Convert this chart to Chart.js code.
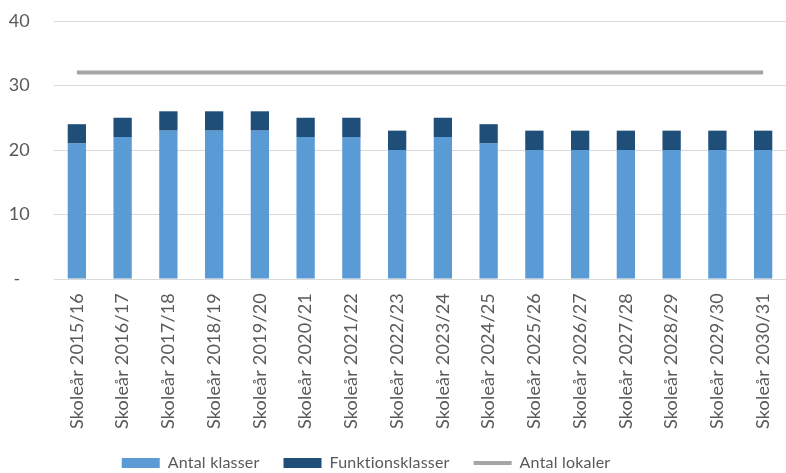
<!DOCTYPE html>
<html>
<head>
<meta charset="utf-8">
<script src="https://cdn.jsdelivr.net/npm/chart.js@4/dist/chart.umd.min.js"></script>
<style>
html,body{margin:0;padding:0;background:#fff;}
#wrap{width:786px;height:473px;position:relative;}
</style>
</head>
<body>
<div id="wrap"><canvas id="c" width="786" height="473"></canvas></div>
<script>
const categories = ["Skoleår 2015/16","Skoleår 2016/17","Skoleår 2017/18","Skoleår 2018/19","Skoleår 2019/20","Skoleår 2020/21","Skoleår 2021/22","Skoleår 2022/23","Skoleår 2023/24","Skoleår 2024/25","Skoleår 2025/26","Skoleår 2026/27","Skoleår 2027/28","Skoleår 2028/29","Skoleår 2029/30","Skoleår 2030/31"];
const antalKlasser = [21,22,23,23,23,22,22,20,22,21,20,20,20,20,20,20];
const funktionsklasser = [3,3,3,3,3,3,3,3,3,3,3,3,3,3,3,3];
const antalLokaler = [32,32,32,32,32,32,32,32,32,32,32,32,32,32,32,32];
const yTicks = [0,10,20,30,40];

const FONT = "Lato, 'Open Sans', sans-serif";
const TXT = '#595959';

const tweaks = {
  id:'tweaks',
  afterLayout(chart){ if (chart.legend) { chart.legend.right -= 62; } },
  beforeDraw(chart){ chart.ctx.letterSpacing = '0.2px'; }
};

new Chart(document.getElementById('c'), {
  type: 'bar',
  plugins:[tweaks],
  data: {
    labels: categories,
    datasets: [
      {label:'Antal klasser', data: antalKlasser, backgroundColor:'#5b9bd5', stack:'k', order:2},
      {label:'Funktionsklasser', data: funktionsklasser, backgroundColor:'#1f4e79', stack:'k', order:2},
      {label:'Antal lokaler', type:'line', data: antalLokaler, borderColor:'#a5a5a5', backgroundColor:'#a5a5a5', borderWidth:4, pointRadius:0, stack:'l', order:1, tension:0}
    ]
  },
  options: {
    responsive:false,
    animation:false,
    layout:{padding:{left:0,right:0,top:0,bottom:-8}},
    datasets:{bar:{categoryPercentage:1, barPercentage:0.4}},
    plugins:{
      tooltip:{enabled:false},
      legend:{
        position:'bottom',
        labels:{
          color:TXT,
          font:{family:FONT,size:16},
          usePointStyle:true,
          pointStyleWidth:38,
          boxHeight:10,
          padding:24,
          generateLabels(chart){
            return chart.data.datasets.map((d,i)=>({
              text:d.label,
              fillStyle:d.type==='line'?'#a5a5a5':d.backgroundColor,
              strokeStyle:d.type==='line'?'#a5a5a5':d.backgroundColor,
              lineWidth:d.type==='line'?4:0,
              pointStyle:d.type==='line'?'line':'rect',
              fontColor:TXT,
              datasetIndex:i,
              hidden:false
            }));
          }
        }
      }
    },
    scales:{
      x:{
        stacked:true,
        grid:{display:false, drawTicks:false},
        border:{display:true,color:'#d9d9d9',width:1},
        afterFit(axis){ axis.height = 152; axis.paddingLeft = 0; axis.paddingRight = 0; },
        ticks:{color:TXT,font:{family:FONT,size:18},minRotation:90,maxRotation:90,padding:14,autoSkip:false}
      },
      y:{
        stacked:true,
        min:0,max:40,
        afterBuildTicks(axis){ axis.ticks = yTicks.map(v=>({value:v})); },
        afterFit(axis){ axis.width = 54; axis.paddingTop = 21; axis.paddingBottom = 10; },
        grid:{color:'#d9d9d9',lineWidth:1,drawTicks:false},
        border:{display:false},
        ticks:{color:TXT,font:{family:FONT,size:18},padding:24,callback:v=>v===0?'-\u00a0\u00a0':String(v)}
      }
    }
  }
});
</script>
</body>
</html>
